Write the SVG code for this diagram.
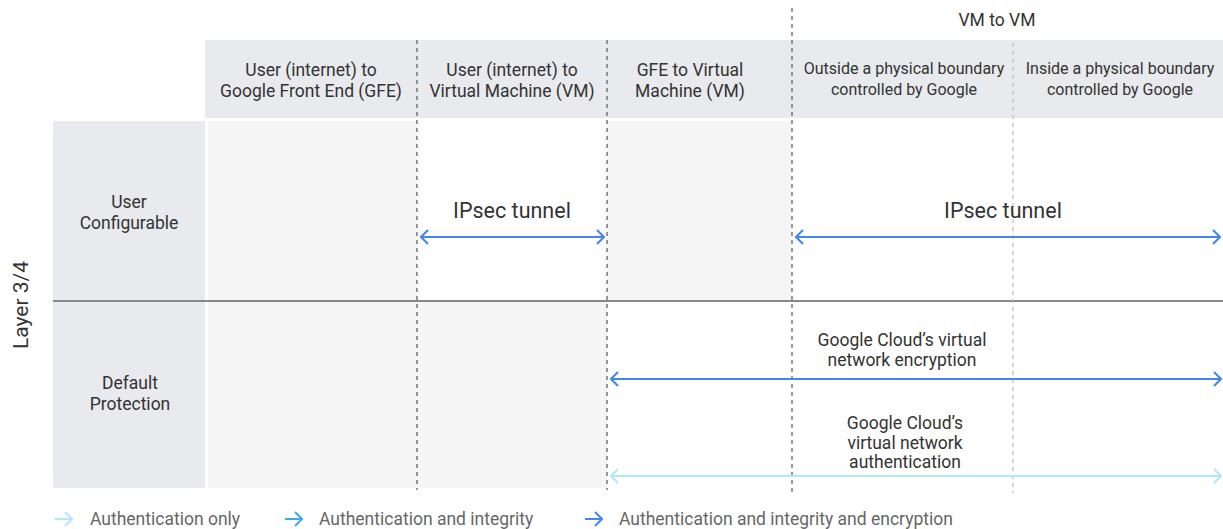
<svg xmlns="http://www.w3.org/2000/svg" width="1223" height="529" viewBox="0 0 1223 529">
<defs>
<style>
text{font-family:Roboto,"Liberation Sans",sans-serif;fill:#333;text-anchor:middle}
.h{font-size:17.5px}
.hs{font-size:16px}
.big{font-size:21.5px}
.lg{font-size:17.5px;fill:#666;text-anchor:start}
.hdr{fill:#e8eaed}
.cell{fill:#f5f5f5}
.dv{stroke:#555;stroke-width:1.2;stroke-dasharray:4,4;fill:none}
.dvl{stroke:#bbb;stroke-width:1.2;stroke-dasharray:4,4;fill:none}
.a{fill:none;stroke-width:2}
.enc{stroke:#4285f4}
.aut{stroke:#b3e5fc}
.int{stroke:#3fa9ec}
</style>
<marker id="me" viewBox="0 0 10 16" refX="9" refY="8" markerWidth="10" markerHeight="16" markerUnits="userSpaceOnUse" orient="auto-start-reverse"><path d="M2,1 L9,8 L2,15" fill="none" stroke="#4285f4" stroke-width="2"/></marker>
<marker id="ma" viewBox="0 0 10 16" refX="9" refY="8" markerWidth="10" markerHeight="16" markerUnits="userSpaceOnUse" orient="auto-start-reverse"><path d="M2,1 L9,8 L2,15" fill="none" stroke="#b3e5fc" stroke-width="2"/></marker>
<marker id="mi" viewBox="0 0 10 16" refX="9" refY="8" markerWidth="10" markerHeight="16" markerUnits="userSpaceOnUse" orient="auto-start-reverse"><path d="M2,1 L9,8 L2,15" fill="none" stroke="#3fa9ec" stroke-width="2"/></marker>
</defs>
<rect width="1223" height="529" fill="#fff"/>
<g id="background">
<rect class="hdr" x="205" y="40" width="1018" height="78"/>
<rect class="hdr" x="53" y="121" width="152" height="367"/>
<rect class="cell" x="208" y="121" width="209" height="367"/>
<rect class="cell" x="417" y="302" width="190" height="186"/>
<rect class="cell" x="607" y="121" width="185" height="180"/>
<line x1="53" y1="301" x2="1223" y2="301" stroke="#888" stroke-width="2"/>
<path class="dv" d="M417,40 V490 M607,40 V490 M792,8 V493"/>
<path class="dvl" d="M1013,43 V493"/>
</g>
<g id="header-vm">
<text class="h" x="997" y="26">VM to VM</text>
</g>
<g id="col-user-gfe">
<text class="h" x="311" y="76">User (internet) to</text>
<text class="h" x="311" y="97">Google Front End (GFE)</text>
</g>
<g id="col-user-vm">
<text class="h" x="512" y="76">User (internet) to</text>
<text class="h" x="512" y="97">Virtual Machine (VM)</text>
</g>
<g id="col-gfe-vm">
<text class="h" x="690" y="76">GFE to Virtual</text>
<text class="h" x="690" y="97">Machine (VM)</text>
</g>
<g id="col-outside">
<text class="hs" x="904" y="74">Outside a physical boundary</text>
<text class="hs" x="904" y="95">controlled by Google</text>
</g>
<g id="col-inside">
<text class="hs" x="1120" y="74">Inside a physical boundary</text>
<text class="hs" x="1120" y="95">controlled by Google</text>
</g>
<g id="layer-label">
<text x="28" y="305" transform="rotate(-90 28 305)" style="font-size:21px">Layer 3/4</text>
</g>
<g id="row-user-configurable">
<text class="h" x="129" y="208">User</text>
<text class="h" x="129" y="229">Configurable</text>
</g>
<g id="row-default-protection">
<text class="h" x="130" y="389">Default</text>
<text class="h" x="130" y="410">Protection</text>
</g>
<g id="connectors">
<line class="a enc" x1="421" y1="237" x2="604" y2="237" marker-start="url(#me)" marker-end="url(#me)"/>
<line class="a enc" x1="796" y1="237" x2="1220" y2="237" marker-start="url(#me)" marker-end="url(#me)"/>
<line class="a enc" x1="611" y1="379" x2="1221" y2="379" marker-start="url(#me)" marker-end="url(#me)"/>
<line class="a aut" x1="611" y1="476" x2="1221" y2="476" marker-start="url(#ma)" marker-end="url(#ma)"/>
</g>
<g id="label-ipsec-1"><text class="big" x="512" y="218">IPsec tunnel</text></g>
<g id="label-ipsec-2"><text class="big" x="1003" y="218">IPsec tunnel</text></g>
<g id="label-encryption">
<text class="h" x="902" y="346">Google Cloud’s virtual</text>
<text class="h" x="902" y="366">network encryption</text>
</g>
<g id="label-authentication">
<text class="h" x="905" y="429">Google Cloud’s</text>
<text class="h" x="905" y="449">virtual network</text>
<text class="h" x="905" y="468">authentication</text>
</g>
<g id="legend">
<line class="a aut" x1="55" y1="519" x2="72" y2="519" marker-end="url(#ma)"/>
<text class="lg" x="90" y="525">Authentication only</text>
<line class="a int" x1="285" y1="519" x2="302" y2="519" marker-end="url(#mi)"/>
<text class="lg" x="319" y="525">Authentication and integrity</text>
<line class="a enc" x1="585" y1="519" x2="602" y2="519" marker-end="url(#me)"/>
<text class="lg" x="619" y="525">Authentication and integrity and encryption</text>
</g>
</svg>
